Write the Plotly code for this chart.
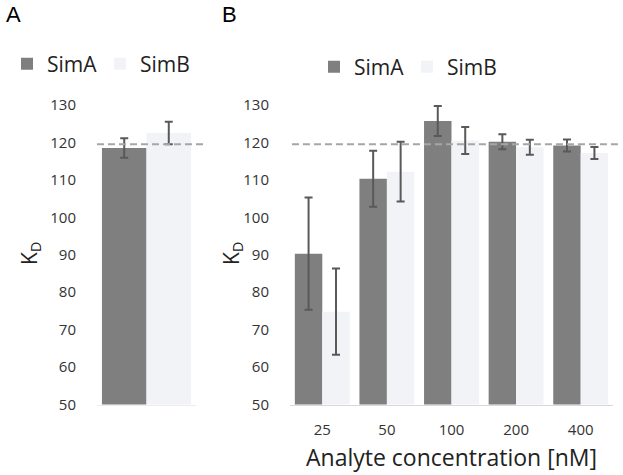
import plotly.graph_objects as go

# ---- data ----
series_names = ["SimA", "SimB"]
panel_a_category = ["all"]
panel_a_simA = [118.5]
panel_a_simA_err = [2.6]
panel_a_simB = [122.5]
panel_a_simB_err = [3.0]

concentrations = ["25", "50", "100", "200", "400"]
simA_values = [90.3, 110.3, 125.7, 120.2, 119.2]
simA_errors = [15.0, 7.5, 4.0, 2.0, 1.6]
simB_values = [74.8, 112.2, 120.5, 118.7, 117.2]
simB_errors = [11.5, 8.0, 3.6, 2.0, 1.6]

reference_kd = 119.5
y_ticks = [50, 60, 70, 80, 90, 100, 110, 120, 130]

# ---- style ----
W, H = 623, 475
colA = "#7f7f7f"
colB = "#f2f3f6"
err_col = "#595959"
font_fam = "Open Sans, sans-serif"
tick_col = "#333333"

def px_x(p):
    return p / W

def px_y(p):
    return 1 - p / H

ydom = [px_y(404.5), px_y(105)]
xdomA = [px_x(97), px_x(196)]
xdomB = [px_x(290), px_x(613)]

fig = go.Figure()

def err(arr):
    return dict(type="data", array=arr, visible=True, color=err_col, thickness=2, width=4)

# panel A: single category, two half-width bars side by side
fig.add_trace(go.Bar(x=panel_a_category, y=panel_a_simA, error_y=err(panel_a_simA_err),
                     name=series_names[0], marker=dict(color=colA, line=dict(width=0)),
                     width=0.45, offset=-0.45,
                     xaxis="x", yaxis="y", legend="legend"))
fig.add_trace(go.Bar(x=panel_a_category, y=panel_a_simB, error_y=err(panel_a_simB_err),
                     name=series_names[1], marker=dict(color=colB, line=dict(width=0)),
                     width=0.45, offset=0.0,
                     xaxis="x", yaxis="y", legend="legend"))
fig.add_trace(go.Bar(x=concentrations, y=simA_values, error_y=err(simA_errors),
                     name=series_names[0], marker=dict(color=colA, line=dict(width=0)),
                     xaxis="x2", yaxis="y2", legend="legend2"))
fig.add_trace(go.Bar(x=concentrations, y=simB_values, error_y=err(simB_errors),
                     name=series_names[1], marker=dict(color=colB, line=dict(width=0)),
                     xaxis="x2", yaxis="y2", legend="legend2"))

yaxis_common = dict(range=[50, 130], tickvals=y_ticks, showgrid=False, zeroline=False,
                    showline=False, ticks="outside", ticklen=17, tickcolor="rgba(0,0,0,0)",
                    tickfont=dict(family=font_fam, size=15, color=tick_col), domain=ydom,
                    automargin=False)

legend_common = dict(orientation="h", font=dict(family=font_fam, size=21, color="#222222"),
                     bgcolor="rgba(0,0,0,0)", traceorder="normal",
                     entrywidthmode="pixels", xanchor="left", yanchor="middle",
                     itemclick=False, itemdoubleclick=False)

fig.update_layout(
    width=W, height=H,
    margin=dict(l=0, r=0, t=0, b=0, pad=0, autoexpand=False),
    paper_bgcolor="white", plot_bgcolor="white",
    barmode="group",
    font=dict(family=font_fam, color=tick_col),
    xaxis=dict(domain=xdomA, anchor="y", showticklabels=False, ticks="", range=[-0.5, 0.5],
               showline=True, linecolor="#ececec", linewidth=1, showgrid=False, automargin=False),
    yaxis=dict(anchor="x", **yaxis_common),
    xaxis2=dict(domain=xdomB, anchor="y2", showline=True, linecolor="#d9d9d9", linewidth=1,
                showgrid=False, ticks="outside", ticklen=11, tickcolor="rgba(0,0,0,0)",
                tickfont=dict(family=font_fam, size=15, color=tick_col), automargin=False,
                title=dict(text="Analyte concentration [nM]",
                           font=dict(family=font_fam, size=23, color="#222222"), standoff=12)),
    yaxis2=dict(anchor="x2", **yaxis_common),
    bargap=0.15,
    legend=dict(x=px_x(7), y=px_y(64), entrywidth=48, **legend_common),
    legend2=dict(x=px_x(314), y=px_y(67), entrywidth=48, **legend_common),
    showlegend=True,
)

# reference dashed lines
fig.add_shape(type="line", xref="x domain", yref="y", x0=0, x1=1.08, y0=reference_kd, y1=reference_kd,
              line=dict(color="#a6a6a6", width=2, dash="7px,4px"), layer="above")
fig.add_shape(type="line", xref="x2 domain", yref="y2", x0=0.006, x1=1.02, y0=reference_kd, y1=reference_kd,
              line=dict(color="#a6a6a6", width=2, dash="7px,4px"), layer="above")

# K_D axis titles
for xp in (30, 232):
    fig.add_annotation(text="K<sub>D</sub>", x=px_x(xp), y=px_y(253), xref="paper", yref="paper",
                       textangle=-90, showarrow=False, xanchor="center", yanchor="middle",
                       font=dict(family=font_fam, size=21, color="#222222"))

# panel letters
for letter, xp in (("A", 4), ("B", 220)):
    fig.add_annotation(text=letter, x=px_x(xp), y=px_y(15), xref="paper", yref="paper",
                       showarrow=False, xanchor="left", yanchor="middle",
                       font=dict(family="Liberation Sans, Arial, sans-serif", size=22, color="#000000"))

fig.write_html("out.html", config={"displayModeBar": False},
               post_script="document.body.style.margin='0px';")
